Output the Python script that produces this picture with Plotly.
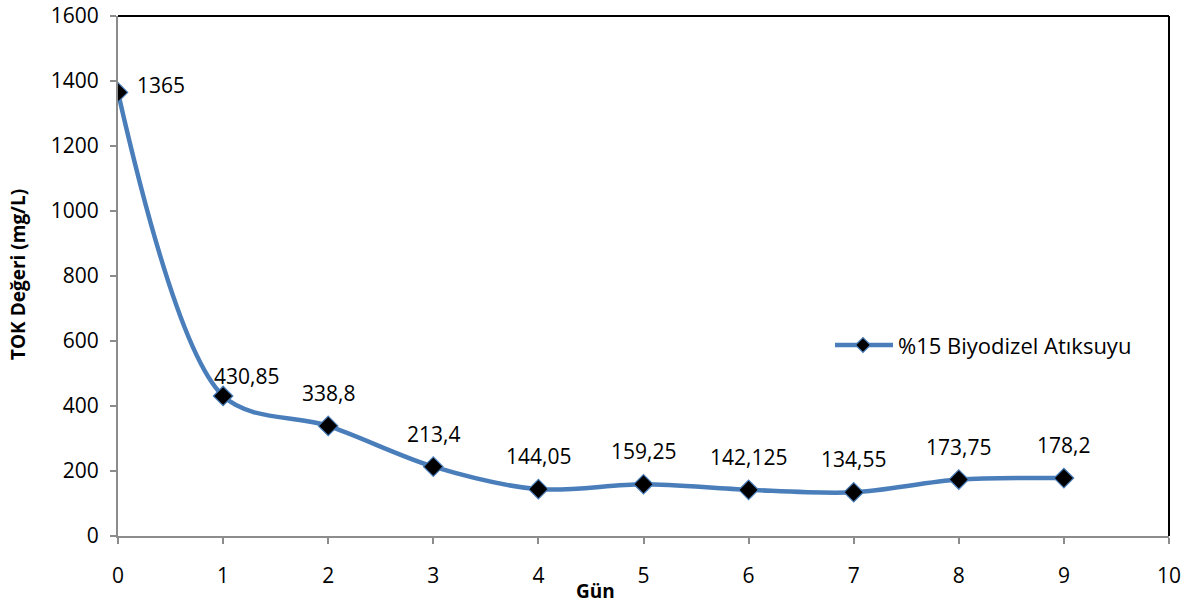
import plotly.graph_objects as go

# TOK measurements over days
gun = [0, 1, 2, 3, 4, 5, 6, 7, 8, 9]
tok = [1365, 430.85, 338.8, 213.4, 144.05, 159.25, 142.125, 134.55, 173.75, 178.2]
seri_adi = "%15 Biyodizel Atıksuyu"
x_ticks = list(range(0, 11))
y_ticks = list(range(0, 1601, 200))

LINE = "#4A7EBB"
FONT = "Open Sans, Liberation Sans, sans-serif"
FS = 21

W, H = 1192, 604
ML, MR, MT, MB = 118, 23, 16, 68


def fmt(v):
    s = ("%g" % v) if v != int(v) else str(int(v))
    return s.replace(".", ",")


fig = go.Figure()
fig.add_trace(go.Scatter(
    x=gun, y=tok, mode="lines+markers", name=seri_adi, showlegend=False,
    line=dict(color=LINE, width=4.5, shape="spline", smoothing=0.9),
    marker=dict(symbol="diamond", size=15, color="black",
                line=dict(color=LINE, width=1.2)),
))

# data labels (position offsets per point, in pixels)
label_shift = {0: (17, 7, "left"), 1: (23, 20, "center")}
for i, (xv, yv) in enumerate(zip(gun, tok)):
    dx, dy, anchor = label_shift.get(i, (0, 33, "center"))
    fig.add_annotation(x=xv, y=yv, text=fmt(yv), showarrow=False,
                       xanchor=anchor, yanchor="middle", xshift=dx, yshift=dy,
                       font=dict(size=FS, color="black", family=FONT))

# legend drawn in pixel space next to the curve
pw = W - ML - MR
ph = H - MT - MB


def px_to_paper(px, py):
    return (px - ML) / pw, 1 - (py - MT) / ph


lx0, ly = px_to_paper(835, 345)
lx1, _ = px_to_paper(893, 345)
lxm, _ = px_to_paper(863, 345)
ltx, _ = px_to_paper(896, 345)
fig.add_shape(type="line", xref="paper", yref="paper", x0=lx0, x1=lx1, y0=ly, y1=ly,
              line=dict(color=LINE, width=4.5))
fig.add_shape(type="path", xref="paper", yref="paper",
              xsizemode="pixel", ysizemode="pixel", xanchor=lxm, yanchor=ly,
              path="M -7.5 0 L 0 7.5 L 7.5 0 L 0 -7.5 Z",
              fillcolor="black", line=dict(color=LINE, width=1.2))
fig.add_annotation(xref="paper", yref="paper", x=ltx, y=ly, text=seri_adi,
                   showarrow=False, xanchor="left", yanchor="middle",
                   font=dict(size=22, color="black", family=FONT))

# axis titles
fig.add_annotation(xref="paper", yref="paper", x=px_to_paper(595, 0)[0],
                   y=px_to_paper(0, 591)[1], text="<b>Gün</b>", showarrow=False,
                   xanchor="center", yanchor="middle",
                   font=dict(size=19, color="black", family=FONT))
fig.add_annotation(xref="paper", yref="paper", x=px_to_paper(18, 0)[0],
                   y=px_to_paper(0, 275)[1], text="<b>TOK Değeri (mg/L)</b>",
                   showarrow=False, textangle=-90, xanchor="center", yanchor="middle",
                   font=dict(size=19, color="black", family=FONT))

fig.update_layout(
    width=W, height=H,
    margin=dict(l=ML, r=MR, t=MT, b=MB),
    plot_bgcolor="white", paper_bgcolor="white",
    font=dict(family=FONT, size=FS, color="black"),
    showlegend=False,
    xaxis=dict(range=[0, 10], tickvals=x_ticks, showgrid=False, zeroline=False,
               showline=True, linecolor="#8c8c8c", linewidth=2, automargin=False,
               ticks="outside", ticklen=6, tickcolor="#8c8c8c", tickwidth=2,
               ticklabelstandoff=14, tickfont=dict(size=FS)),
    yaxis=dict(range=[0, 1600], tickvals=y_ticks, showgrid=False, zeroline=False,
               showline=True, linecolor="#8c8c8c", linewidth=2, automargin=False,
               ticks="outside", ticklen=6, tickcolor="#8c8c8c", tickwidth=2,
               ticklabelstandoff=7, tickfont=dict(size=FS)),
)

# black frame on top and right edges
fig.add_shape(type="line", xref="paper", yref="paper", x0=0, x1=1, y0=1, y1=1,
              line=dict(color="black", width=2))
fig.add_shape(type="line", xref="paper", yref="paper", x0=1, x1=1, y0=0, y1=1,
              line=dict(color="black", width=2))

fig.write_html("out.html")
